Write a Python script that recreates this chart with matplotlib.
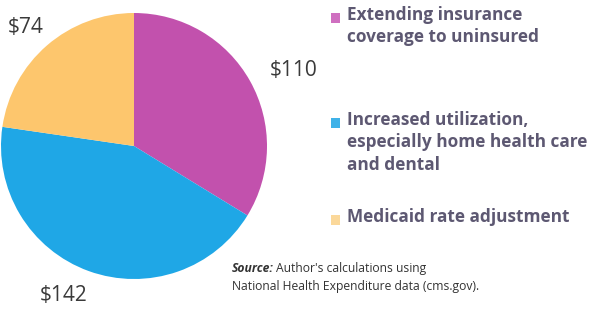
import numpy as np
import matplotlib
matplotlib.use("Agg")
import matplotlib.pyplot as plt
from matplotlib.patches import Rectangle

# spending components (billions)
categories = ["Extending insurance\ncoverage to uninsured",
              "Increased utilization,\nespecially home health care\nand dental",
              "Medicaid rate adjustment"]
values = [110, 142, 74]
value_labels = ["$110", "$142", "$74"]
colors = ["#c251ad", "#1fa7e6", "#fdc66d"]
legend_colors = ["#cf6fc0", "#3fb2e8", "#fbd89a"]

# label placement relative to wedge middle (radius units, degrees)
label_dist = [1.33, 1.24, 1.21]
label_shift = [-4, -5.5, 1.6]

W, H = 591, 309
fig = plt.figure(figsize=(W / 100, H / 100), dpi=100)
fig.patch.set_facecolor("white")

cx, cy, r = 134, 146, 133
ax = fig.add_axes([(cx - r) / W, (H - cy - r) / H, 2 * r / W, 2 * r / H])
wedges, _ = ax.pie(values, colors=colors, startangle=90, counterclock=False,
                   radius=1.0, wedgeprops=dict(linewidth=0))
ax.set_xlim(-1, 1)
ax.set_ylim(-1, 1)
ax.set_aspect("equal")
ax.axis("off")

for w, lab, d, s in zip(wedges, value_labels, label_dist, label_shift):
    mid = np.deg2rad((w.theta1 + w.theta2) / 2 + s)
    ax.text(d * np.cos(mid), d * np.sin(mid), lab, ha="center", va="center",
            fontsize=15, color="#3a3a3a", family="Open Sans", clip_on=False)

# legend built by hand to keep the spacing of the original
text_color = "#5d5872"
tops = [6, 111, 208]
for cat, col, top in zip(categories, legend_colors, tops):
    fig.patches.append(Rectangle((331 / W, 1 - (top + 17) / H), 9 / W, 10 / H,
                                 transform=fig.transFigure, color=col,
                                 linewidth=0))
    fig.text(347 / W, 1 - top / H, cat, ha="left", va="top", fontsize=12.4,
             fontweight="bold", color=text_color, family="Open Sans",
             linespacing=1.32)

src_color = "#333333"
t = fig.text(232 / W, 1 - 262 / H, "Source:", ha="left", va="top",
             fontsize=8.7, fontweight="bold", fontstyle="italic",
             color=src_color, family="Open Sans")
renderer = fig.canvas.get_renderer()
bb = t.get_window_extent(renderer)
fig.text((bb.x1 + 2) / W, 1 - 262 / H, "Author's calculations using",
         ha="left", va="top", fontsize=8.7, color=src_color, family="Open Sans")
fig.text(232 / W, 1 - 280 / H, "National Health Expenditure data (cms.gov).",
         ha="left", va="top", fontsize=8.7, color=src_color, family="Open Sans")

fig.savefig("out.png", dpi=100, facecolor="white")
